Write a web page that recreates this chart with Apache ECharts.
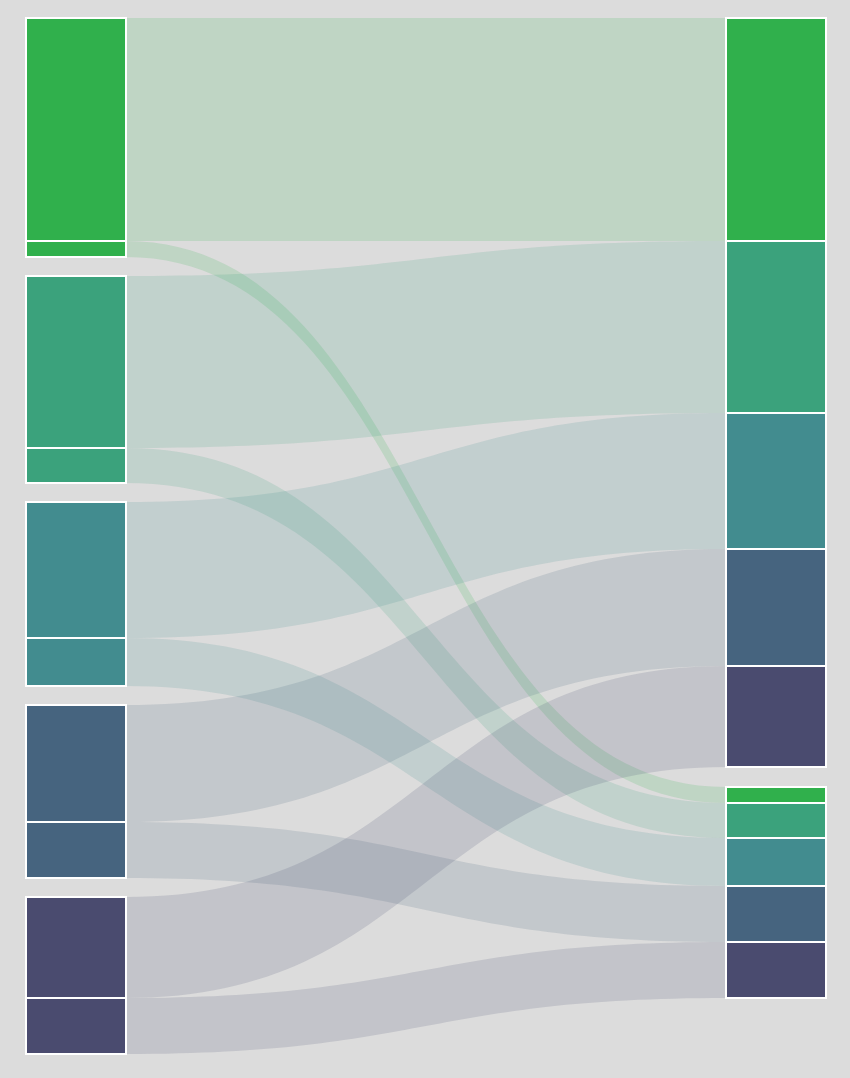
<!DOCTYPE html>
<html>
<head>
<meta charset="utf-8">
<style>html,body{margin:0;padding:0;background:#dcdcdc;}#c{width:850px;height:1078px;}</style>
<script src="https://cdn.jsdelivr.net/npm/echarts@6/dist/echarts.min.js"></script>
</head>
<body>
<div id="c"></div>
<script>
// groups (left columns stacked pairs), colors
var groups = ['A', 'B', 'C', 'D', 'E'];
var groupColors = ['#30b04c', '#3ba27c', '#428c8f', '#46647f', '#4a4b6f'];
// flow from each left group to the matching upper right node
var stayValues = [223, 172, 136, 117, 101];
// flow from each left group to the matching lower right node
var moveValues = [16, 35, 48, 56, 56];
// spacing values (empty spacer nodes)
var leftGapValue = 19;
var rightGapValue = 20;

var nodes = [];
var links = [];
var hidden = {itemStyle: {color: 'rgba(0,0,0,0)', borderWidth: 0}, label: {show: false}, emphasis: {disabled: true}};
groups.forEach(function (g, i) {
  if (i > 0) nodes.push(Object.assign({name: 'gapL' + i, value: leftGapValue, depth: 0}, hidden));
  nodes.push({name: g + ' stay', depth: 0, itemStyle: {color: groupColors[i]}});
  nodes.push({name: g + ' move', depth: 0, itemStyle: {color: groupColors[i]}});
});
groups.forEach(function (g, i) {
  nodes.push({name: g + ' top', depth: 1, itemStyle: {color: groupColors[i]}});
});
nodes.push(Object.assign({name: 'gapR', value: rightGapValue, depth: 1}, hidden));
groups.forEach(function (g, i) {
  nodes.push({name: g + ' bottom', depth: 1, itemStyle: {color: groupColors[i]}});
});
groups.forEach(function (g, i) {
  links.push({source: g + ' stay', target: g + ' top', value: stayValues[i]});
  links.push({source: g + ' move', target: g + ' bottom', value: moveValues[i]});
});

var chart = echarts.init(document.getElementById('c'));
chart.setOption({
  backgroundColor: '#dcdcdc',
  animation: false,
  series: [{
    type: 'sankey',
    left: 26, right: 24, top: 18, bottom: 24,
    nodeWidth: 100,
    nodeGap: 0,
    layoutIterations: 0,
    nodeAlign: 'left',
    draggable: false,
    label: {show: false},
    itemStyle: {borderColor: '#ffffff', borderWidth: 2},
    lineStyle: {color: 'source', opacity: 0.17, curveness: 0.5},
    emphasis: {disabled: true},
    data: nodes,
    links: links
  }]
});
</script>
</body>
</html>
